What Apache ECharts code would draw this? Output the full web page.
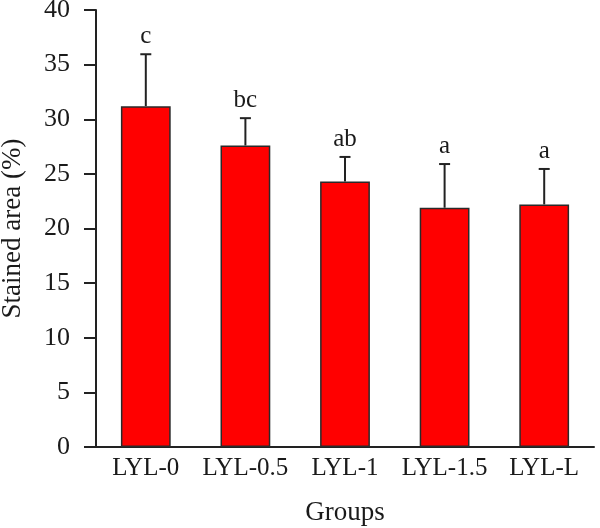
<!DOCTYPE html>
<html>
<head>
<meta charset="utf-8">
<script src="https://cdn.jsdelivr.net/npm/echarts@6/dist/echarts.min.js"></script>
<style>html,body{margin:0;padding:0;background:#fff}#c{width:600px;height:528px}</style>
</head>
<body>
<div id="c"></div>
<script>
const categories = ['LYL-0', 'LYL-0.5', 'LYL-1', 'LYL-1.5', 'LYL-L'];
const means = [31.2, 27.6, 24.3, 21.9, 22.2];
const errors = [4.75, 2.5, 2.25, 4.0, 3.25];
const letters = ['c', 'bc', 'ab', 'a', 'a'];
const yTicks = { min: 0, max: 40, interval: 5 };

const FONT = '"Liberation Serif", "DejaVu Serif", serif';
const TXT = '#1a1a1a';

const chart = echarts.init(document.getElementById('c'), null, { renderer: 'canvas' });
chart.setOption({
  animation: false,
  backgroundColor: '#fff',
  grid: { left: 96, right: 6, top: 10, bottom: 81, outerBoundsMode: 'none', containLabel: false },
  xAxis: {
    type: 'category',
    data: categories,
    name: 'Groups',
    nameLocation: 'middle',
    nameGap: 52,
    nameTextStyle: { fontFamily: FONT, fontSize: 27, color: TXT },
    axisLine: { lineStyle: { color: '#222', width: 2 } },
    axisTick: { show: false },
    axisLabel: { fontFamily: FONT, fontSize: 25, color: TXT, margin: 9, interval: 0 }
  },
  yAxis: {
    type: 'value',
    min: yTicks.min, max: yTicks.max, interval: yTicks.interval,
    name: 'Stained area (%)',
    nameLocation: 'middle',
    nameGap: 70,
    nameTextStyle: { fontFamily: FONT, fontSize: 27, color: TXT },
    axisLine: { show: true, lineStyle: { color: '#222', width: 2 } },
    axisTick: { show: true, length: 12, lineStyle: { color: '#222', width: 2 } },
    axisLabel: { fontFamily: FONT, fontSize: 26, color: TXT, margin: 26 },
    splitLine: { show: false }
  },
  series: [
    {
      type: 'bar',
      data: means,
      barWidth: '50%',
      itemStyle: { color: '#ff0000', borderColor: '#2a2a2a', borderWidth: 1.5 },
      z: 2
    },
    {
      type: 'custom',
      z: 1,
      data: means.map((m, i) => [i, m, m + errors[i], letters[i]]),
      renderItem: function (params, api) {
        const x = api.value(0);
        const p0 = api.coord([x, api.value(1)]);
        const p1 = api.coord([x, api.value(2)]);
        const cap = 5.5;
        return {
          type: 'group',
          children: [
            { type: 'line', shape: { x1: p0[0], y1: p0[1], x2: p1[0], y2: p1[1] }, style: { stroke: '#222', lineWidth: 2 } },
            { type: 'line', shape: { x1: p1[0] - cap, y1: p1[1], x2: p1[0] + cap, y2: p1[1] }, style: { stroke: '#222', lineWidth: 2 } },
            { type: 'text', style: { text: api.value(3), x: p1[0], y: p1[1] - 5, textAlign: 'center', textVerticalAlign: 'bottom', font: '25px ' + FONT, fill: TXT } }
          ]
        };
      }
    }
  ]
});
</script>
</body>
</html>
